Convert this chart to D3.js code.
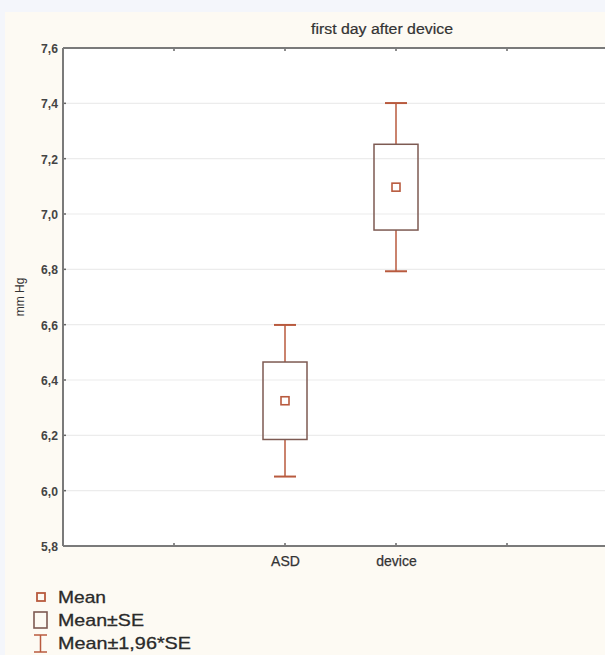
<!DOCTYPE html>
<html>
<head>
<meta charset="utf-8">
<script src="https://cdn.jsdelivr.net/npm/d3@7"></script>
<style>
  html, body { margin: 0; padding: 0; background: #f4f6fb; }
  svg { display: block; }
</style>
</head>
<body>
<svg id="chart" width="605" height="655"></svg>
<script>
// Group summaries: mean, mean ± SE box, mean ± 1.96*SE whiskers
const categories = ["ASD", "device"];
const categoryPos = [2, 3];
const means   = [6.325, 7.097];
const seLow   = [6.185, 6.942];
const seHigh  = [6.465, 7.252];
const ciLow   = [6.051, 6.793];
const ciHigh  = [6.599, 7.401];
const yTicks  = [5.8, 6.0, 6.2, 6.4, 6.6, 6.8, 7.0, 7.2, 7.4, 7.6];
const xTicks  = [1, 2, 3, 4];
const legendItems = ["Mean", "Mean±SE", "Mean±1,96*SE"];

const svg = d3.select("#chart");
const W = 605, H = 655;
const plot = { left: 63, right: 618, top: 48, bottom: 546 };

const boxColor = "#7d5a52";
const markColor = "#b85a3e";
const font = "Liberation Sans, Arial, sans-serif";
const fmt = d => d3.format(".1f")(d).replace(".", ",");

// Panel background
svg.append("rect").attr("x", 5).attr("y", 12).attr("width", W - 5).attr("height", H - 12)
  .attr("fill", "#fdfaf3");
svg.append("rect").attr("x", plot.left).attr("y", plot.top)
  .attr("width", plot.right - plot.left).attr("height", plot.bottom - plot.top)
  .attr("fill", "#ffffff");

const x = d3.scaleLinear().domain([0, 5]).range([plot.left, plot.right]);
const y = d3.scaleLinear().domain([5.8, 7.6]).range([plot.bottom, plot.top]);

// Horizontal gridlines
svg.append("g").selectAll("line").data(yTicks.slice(1, -1)).join("line")
  .attr("x1", plot.left).attr("x2", plot.right)
  .attr("y1", d => y(d)).attr("y2", d => y(d))
  .attr("stroke", "#ececec").attr("stroke-width", 1.2);

// Y axis
const yAxis = svg.append("g").attr("transform", `translate(${plot.left},0)`)
  .call(d3.axisLeft(y).tickValues(yTicks).tickFormat(fmt).tickSize(0).tickPadding(5));
yAxis.select(".domain").remove();
yAxis.selectAll("text")
  .attr("font-family", font)
  .attr("font-size", 13.5).attr("font-weight", "bold").attr("fill", "#444")
  .attr("transform", "scale(0.9,1)").attr("x", -5 / 0.9);
// small inner tick marks on the left frame
svg.append("g").selectAll("line").data(yTicks).join("line")
  .attr("x1", plot.left).attr("x2", plot.left + 3)
  .attr("y1", d => y(d)).attr("y2", d => y(d))
  .attr("stroke", "#666").attr("stroke-width", 1.5);

// X axis (bottom) with category labels
const xAxis = svg.append("g").attr("transform", `translate(0,${plot.bottom})`)
  .call(d3.axisBottom(x).tickValues(categoryPos)
    .tickFormat((d, i) => categories[i]).tickSize(0).tickPadding(10));
xAxis.select(".domain").remove();
xAxis.selectAll("text")
  .attr("font-family", font)
  .attr("font-size", 14).attr("fill", "#333")
  .attr("stroke", "#333").attr("stroke-width", 0.25);

// inner tick marks on top and bottom frame
[plot.top, plot.bottom].forEach((yy, k) => {
  svg.append("g").selectAll("line").data(xTicks).join("line")
    .attr("x1", d => x(d)).attr("x2", d => x(d))
    .attr("y1", yy).attr("y2", k === 0 ? yy + 3 : yy - 3)
    .attr("stroke", "#666").attr("stroke-width", 1.5);
});

// Frame
svg.append("line").attr("x1", plot.left).attr("x2", plot.right)
  .attr("y1", plot.top).attr("y2", plot.top).attr("stroke", "#7a7a7a").attr("stroke-width", 2);
svg.append("line").attr("x1", plot.left).attr("x2", plot.right)
  .attr("y1", plot.bottom).attr("y2", plot.bottom).attr("stroke", "#7a7a7a").attr("stroke-width", 2);
svg.append("line").attr("x1", plot.left).attr("x2", plot.left)
  .attr("y1", plot.top).attr("y2", plot.bottom).attr("stroke", "#7a7a7a").attr("stroke-width", 2);

// Title and axis title
svg.append("text").attr("x", 382).attr("y", 34).attr("text-anchor", "middle")
  .attr("font-family", font).attr("font-size", 14)
  .attr("fill", "#333").attr("stroke", "#333").attr("stroke-width", 0.2)
  .attr("textLength", 142).attr("lengthAdjust", "spacingAndGlyphs")
  .text("first day after device");
svg.append("text").attr("transform", "translate(24,297) rotate(-90)")
  .attr("text-anchor", "middle")
  .attr("font-family", font).attr("font-size", 12)
  .attr("fill", "#333").text("mm Hg");

// Box-and-whisker marks
const boxHalf = 22, capHalf = 11, meanHalf = 4;
const groups = svg.append("g").selectAll("g").data(categories).join("g");
groups.append("line")
  .attr("x1", (d, i) => x(categoryPos[i])).attr("x2", (d, i) => x(categoryPos[i]))
  .attr("y1", (d, i) => y(ciHigh[i])).attr("y2", (d, i) => y(seHigh[i]))
  .attr("stroke", markColor).attr("stroke-width", 1.5);
groups.append("line")
  .attr("x1", (d, i) => x(categoryPos[i])).attr("x2", (d, i) => x(categoryPos[i]))
  .attr("y1", (d, i) => y(seLow[i])).attr("y2", (d, i) => y(ciLow[i]))
  .attr("stroke", markColor).attr("stroke-width", 1.5);
groups.append("line")
  .attr("x1", (d, i) => x(categoryPos[i]) - capHalf).attr("x2", (d, i) => x(categoryPos[i]) + capHalf)
  .attr("y1", (d, i) => y(ciHigh[i])).attr("y2", (d, i) => y(ciHigh[i]))
  .attr("stroke", markColor).attr("stroke-width", 2);
groups.append("line")
  .attr("x1", (d, i) => x(categoryPos[i]) - capHalf).attr("x2", (d, i) => x(categoryPos[i]) + capHalf)
  .attr("y1", (d, i) => y(ciLow[i])).attr("y2", (d, i) => y(ciLow[i]))
  .attr("stroke", markColor).attr("stroke-width", 2);
groups.append("rect")
  .attr("x", (d, i) => x(categoryPos[i]) - boxHalf)
  .attr("y", (d, i) => y(seHigh[i]))
  .attr("width", boxHalf * 2)
  .attr("height", (d, i) => y(seLow[i]) - y(seHigh[i]))
  .attr("fill", "none").attr("stroke", boxColor).attr("stroke-width", 1.5);
groups.append("rect")
  .attr("x", (d, i) => x(categoryPos[i]) - meanHalf)
  .attr("y", (d, i) => y(means[i]) - meanHalf)
  .attr("width", meanHalf * 2).attr("height", meanHalf * 2)
  .attr("fill", "#fff").attr("stroke", markColor).attr("stroke-width", 1.6);

// Legend
const lg = svg.append("g");
const ly = [597, 620, 643];
const legendWidths = [48, 86, 133];
lg.append("rect").attr("x", 37).attr("y", ly[0] - 4).attr("width", 8).attr("height", 8)
  .attr("fill", "none").attr("stroke", markColor).attr("stroke-width", 1.8);
lg.append("rect").attr("x", 34).attr("y", ly[1] - 8).attr("width", 13).attr("height", 16)
  .attr("fill", "none").attr("stroke", boxColor).attr("stroke-width", 1.6);
lg.append("line").attr("x1", 40.5).attr("x2", 40.5).attr("y1", ly[2] - 8).attr("y2", ly[2] + 9)
  .attr("stroke", markColor).attr("stroke-width", 1.5);
lg.append("line").attr("x1", 34).attr("x2", 47).attr("y1", ly[2] - 8).attr("y2", ly[2] - 8)
  .attr("stroke", markColor).attr("stroke-width", 1.5);
lg.append("line").attr("x1", 34).attr("x2", 47).attr("y1", ly[2] + 9).attr("y2", ly[2] + 9)
  .attr("stroke", markColor).attr("stroke-width", 1.5);
lg.selectAll("text").data(legendItems).join("text")
  .attr("x", 58).attr("y", (d, i) => ly[i] + 6)
  .attr("font-family", font).attr("font-size", 17)
  .attr("fill", "#2a2a2a").attr("stroke", "#2a2a2a").attr("stroke-width", 0.3)
  .attr("textLength", (d, i) => legendWidths[i]).attr("lengthAdjust", "spacingAndGlyphs")
  .text(d => d);
</script>
</body>
</html>
